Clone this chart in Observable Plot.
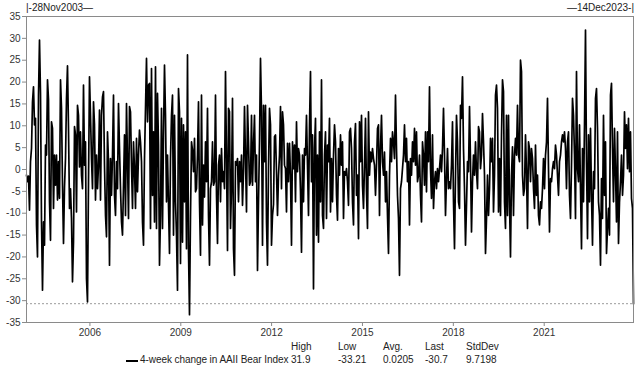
<!DOCTYPE html>
<html>
<head>
<meta charset="utf-8">
<script src="https://cdn.jsdelivr.net/npm/d3@7"></script>
<script src="https://cdn.jsdelivr.net/npm/@observablehq/plot@0.6"></script>
<style>
  html, body { margin: 0; padding: 0; background: #fff; }
  #wrap { position: relative; width: 640px; height: 376px; font-family: "Liberation Sans", Arial, sans-serif; color: #222; }
  .lab { position: absolute; font-size: 10px; white-space: nowrap; line-height: 1; }
</style>
</head>
<body>
<div id="wrap"></div>
<script>
// ---- data ----
const startDate = "2003-11-28";
const endDate = "2023-12-14";
const seriesName = "4-week change in AAII Bear Index";
const statLabels = ["High", "Low", "Avg.", "Last", "StdDev"];
const statValues = ["31.9", "-33.21", "0.0205", "-30.7", "9.7198"];
const lastValue = -30.7;
const yearTicks = [2006, 2009, 2012, 2015, 2018, 2021];
const yTicks = [-35, -30, -25, -20, -15, -10, -5, 0, 5, 10, 15, 20, 25, 30, 35];

const values2004_2007 = [-1.3, -2.8, -1.5, -9.3, 1.8, 4.8, 15.5, 18.9, 10.2, 11.7, -12.7, -20.0, 17.0, 29.6, 17.4, -12.0, -27.6, -12.0, -17.3, 5.6, 3.3, 20.5, 16.0, -7.4, -16.2, 10.9, 9.4, -8.9, 3.3, -3.6, 3.3, -7.0, 1.8, -6.6, 20.5, 14.0, -3.6, -16.9, -4.0, 2.5, 16.3, 23.7, 9.4, -8.9, -4.4, -11.2, -25.7, -16.6, 9.8, 7.9, -9.7, 14.7, 12.4, 0.6, 8.6, -1.3, -4.4, 19.3, 1.0, 6.3, -25.0, -30.3, -2.8, 21.2, 12.4, 2.5, -4.4, 15.5, 10.2, -7.0, 3.3, -4.4, 1.0, 13.6, -7.0, 12.4, 16.6, 17.8, 1.0, -10.5, -15.4, 8.6, 1.8, -21.9, 2.5, -5.9, 3.3, 17.0, -5.9, -10.5, 1.8, -4.4, 15.1, 4.8, -4.4, -12.0, -15.0, -3.6, 7.9, -10.5, 15.1, 1.8, -11.2, 14.4, 13.2, 1.0, -8.9, 6.3, 0.2, -8.9, 7.1, -5.1, 3.3, 9.0, 6.3, 1.8, -12.0, -17.3, 2.5, 14.0, 25.4, 10.9, 19.3];

const values2008_2011 = [19.7, -13.5, 23.1, -5.9, 8.6, -12.0, 23.5, -13.5, 17.4, 5.6, -21.9, -10.5, 14.0, -13.5, 8.0, 23.9, 12.4, -7.4, 3.3, -8.0, -19.2, 2.5, 12.4, 17.0, -15.0, 12.4, -7.4, -15.0, -27.6, 18.5, 13.2, -21.5, 11.7, -16.6, 10.2, -7.4, 8.6, -18.1, 26.2, -18.5, -33.21, -10.5, 6.3, 4.4, -0.5, 7.1, -5.1, -4.4, 3.3, 15.5, -7.4, -19.6, 17.0, -12.7, 1.0, -6.3, 6.3, -2.8, 14.0, -10.5, -21.9, -4.4, -2.8, 6.3, -3.6, -2.8, 17.0, -5.9, -16.9, 1.0, 3.3, -7.4, 4.8, -2.8, -0.5, -4.4, 22.4, 2.5, -18.5, 14.0, 13.2, -13.5, -4.4, 16.3, -18.1, -24.2, 1.8, 1.0, 2.5, -7.4, 1.8, -2.8, 3.3, -8.2, -0.5, 14.4, 2.5, -9.7, 14.7, 6.3, -3.6, -2.8, 12.4, -3.6, 5.6, 12.4, -2.8, 3.3, -23.1, -7.4, 6.3, 25.4, 13.2, -17.3, 14.7, 1.8, 14.7, -12.0, -21.9, 0.2, 14.0, 10.2];

const values2012_2015 = [-17.3, -10.5, -8.0, 7.5, 7.9, -0.5, -10.5, -1.3, 3.3, 14.4, -4.4, 13.2, 10.2, 1.0, 0.2, -9.7, 6.0, -2.8, 6.0, -1.3, -17.3, 6.3, 0.2, 5.6, -7.4, 10.9, -0.5, 4.8, 3.3, -5.1, -18.9, 3.3, -7.4, 4.8, 3.3, 12.4, 1.0, -10.5, 10.2, 22.4, -2.8, 7.9, -27.3, 4.8, 11.7, -15.0, 3.3, -16.6, 8.6, -7.4, 20.5, -10.5, -13.5, 3.3, 8.6, -11.2, 5.6, 1.8, 11.7, -9.7, 2.5, -7.4, 3.3, 10.2, 6.3, -5.9, -11.6, 4.8, -1.3, 7.9, 1.0, 6.3, -11.2, -0.5, -1.3, 0.2, -2.8, -8.2, 8.6, 9.4, 4.8, -7.4, -12.7, 6.3, 10.5, -5.9, -1.3, -15.8, 10.9, 1.8, 12.4, -3.6, -8.9, 1.0, 11.7, -5.1, -13.5, 13.2, -1.3, 4.0, 1.8, 4.8, 2.5, 1.0, -5.9, 1.0, 9.4, 10.2, -10.5, 4.8, 12.4, 1.8, -1.3, 4.0, -7.4, -0.5, -10.5, -19.2, -1.3, 7.1, 1.8, 8.6];

const values2016_2019 = [6.3, 2.5, 17.0, 4.8, -5.9, -11.2, -24.2, -4.4, -2.8, 0.2, 3.3, 10.2, 1.8, 7.1, -2.8, 1.8, -12.7, 2.5, -1.3, 6.3, 1.8, 9.4, 1.0, 8.6, -2.8, -1.3, 3.3, -5.9, -12.0, 6.3, 3.3, -3.6, 8.6, -5.1, 8.6, 1.8, 18.9, 0.2, -6.6, 7.9, -8.9, -2.8, -0.5, -4.4, 0.2, -2.8, 0.2, 3.3, -0.5, 4.8, 14.0, 3.3, -10.5, -2.1, 4.8, -4.4, -2.8, -4.4, 1.0, 10.9, -7.4, -18.1, -1.3, 12.4, 6.3, -7.4, -8.9, 14.7, 11.7, 21.2, 4.8, -4.4, -17.3, -8.2, 1.8, -0.5, 14.4, 1.8, -14.3, -2.8, 3.3, -1.3, 6.3, -0.5, -4.4, 9.8, 8.6, 0.2, 3.3, 12.8, 6.3, -1.3, -19.2, -11.2, -1.3, -10.5, -4.4, 7.1, 1.8, 7.1, -9.7, -1.3, 17.0, 19.3, 14.0, -9.7, 2.5, -10.5, 7.9, 20.5, 17.8, -7.4, -13.5, 12.4, -10.5, 12.4, -7.4, -20.0, -1.3, 5.2, -10.5, 3.3];

const values2020_2023 = [7.1, 3.3, 14.7, 3.3, 1.8, 25.0, 22.4, -1.3, -5.9, -4.4, 7.9, -0.5, -13.5, 6.3, 4.8, -2.8, 4.8, 2.5, -4.4, -8.9, 5.6, -5.9, -1.3, -10.5, -12.7, -7.4, -8.9, -4.4, 2.5, -4.4, 3.3, 6.3, 16.3, 0.2, -14.3, -2.1, -2.8, 0.2, 1.8, 0.2, 5.6, 3.3, -1.3, -5.9, 1.8, 3.3, 6.3, 7.9, 6.3, 8.6, 4.8, -4.4, 6.3, 8.6, -5.9, -11.2, 1.0, 16.3, 12.4, 3.3, -11.2, 22.4, 0.2, -2.8, 10.2, -4.4, -18.1, 4.8, -7.4, 10.2, 31.9, 1.8, -15.8, 7.9, -7.4, 9.4, -5.9, -17.3, -0.5, -4.4, 16.3, 18.5, 9.4, -7.4, -10.5, -21.9, -2.1, -11.2, 12.4, -5.9, 6.3, -19.2, -13.5, -8.9, -15.0, 17.0, 19.7, 4.8, -7.4, 9.4, -0.5, -12.0, 8.6, -16.9, -7.4, -2.8, 3.3, -5.9, -1.3, 13.2, 4.8, 10.2, 0.2, 11.7, -0.5, 8.6, -6.6, -8.9, -30.7];

// ---- build table ----
const allValues = [].concat(values2004_2007, values2008_2011, values2012_2015, values2016_2019, values2020_2023);
const t0 = new Date(startDate + "T00:00:00Z");
const t1 = new Date(endDate + "T00:00:00Z");
const timeScale = d3.scaleLinear().domain([0, allValues.length - 1]).range([+t0, +t1]);
const data = allValues.map((v, i) => ({date: new Date(timeScale(i)), value: v}));
const xTickDates = yearTicks.map(y => new Date(Date.UTC(y, 0, 1)));

const chart = Plot.plot({
  width: 640,
  height: 340,
  marginLeft: 26,
  marginRight: 7,
  marginTop: 16,
  marginBottom: 18,
  style: {fontFamily: "Liberation Sans, Arial, sans-serif", fontSize: "10px", color: "#333", background: "#fff"},
  x: {type: "utc", domain: [t0, t1]},
  y: {domain: [-35, 35]},
  marks: [
    Plot.ruleY([lastValue], {stroke: "#9a9a9a", strokeDasharray: "2,2", strokeWidth: 1}),
    Plot.lineY(data, {x: "date", y: "value", stroke: "#000", strokeWidth: 1.7}),
    Plot.frame({stroke: "#8a8a8a", strokeWidth: 1}),
    Plot.axisY(yTicks, {tickSize: 4, tickPadding: 2, tickFormat: d => String(d), stroke: "#8a8a8a", fill: "#333", label: null}),
    Plot.axisX(xTickDates, {tickSize: 4, tickPadding: 2, tickFormat: d3.utcFormat("%Y"), stroke: "#8a8a8a", fill: "#333", label: null})
  ]
});

const wrap = document.getElementById("wrap");
wrap.appendChild(chart);

function addLabel(text, left, top, extra) {
  const d = document.createElement("div");
  d.className = "lab";
  d.textContent = text;
  d.style.left = left + "px";
  d.style.top = top + "px";
  if (extra) Object.assign(d.style, extra);
  wrap.appendChild(d);
  return d;
}

// top date labels
addLabel("|-" + "28Nov2003" + "\u2014", 26, 3);
addLabel("\u2014" + "14Dec2023" + "-|", 0, 3, {left: "auto", right: "6px"});

// legend with statistics
const colX = [291, 338, 383, 425, 466];
statLabels.forEach((s, i) => addLabel(s, colX[i], 342));
statValues.forEach((s, i) => addLabel(s, colX[i], 355));
const sw = document.createElement("div");
Object.assign(sw.style, {position: "absolute", left: "126px", top: "360px", width: "12px", height: "2px", background: "#000"});
wrap.appendChild(sw);
addLabel(seriesName, 140, 355, {letterSpacing: "-0.07px"});
</script>
</body>
</html>
